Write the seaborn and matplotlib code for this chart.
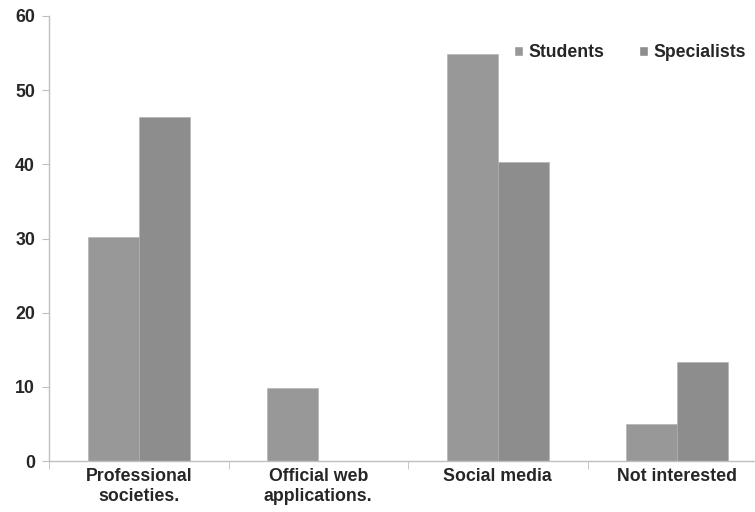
import numpy as np
import pandas as pd
import matplotlib
matplotlib.use("Agg")
import matplotlib.pyplot as plt
import seaborn as sns
from matplotlib.patches import Patch

categories = ["Professional\nsocieties.", "Official web\napplications.", "Social media", "Not interested"]
students = [30.2, 9.8, 54.9, 5.0]
specialists = [46.4, 0.0, 40.3, 13.3]
groups = ["Students", "Specialists"]

student_col = "#989898"
specialist_col = "#8d8d8d"
axis_col = "#bfbfbf"

df = pd.DataFrame({
    "category": categories * 2,
    "value": students + specialists,
    "group": ["Students"] * 4 + ["Specialists"] * 4,
})

sns.set_style("white")
plt.rcParams["font.family"] = ["Liberation Sans", "DejaVu Sans"]
plt.rcParams["font.weight"] = "bold"

fig = plt.figure(figsize=(7.55, 5.12), dpi=100)
ax = fig.add_axes([49 / 755, 51 / 512, 718 / 755, 445 / 512])

sns.barplot(data=df, x="category", y="value", hue="group", hue_order=groups,
            palette=[student_col, specialist_col], width=0.57, gap=0,
            edgecolor="#b0b0b0", linewidth=0.4, legend=False, ax=ax)

ax.set_xlim(-0.5, 3.5)
ax.set_ylim(0, 60)
ax.set_yticks(np.arange(0, 61, 10))
ax.set_xlabel("")
ax.set_ylabel("")

for s in ["top", "right"]:
    ax.spines[s].set_visible(False)
for s in ["left", "bottom"]:
    ax.spines[s].set_color(axis_col)
    ax.spines[s].set_linewidth(1)

ax.tick_params(axis="y", which="major", left=True, length=5, color=axis_col,
               labelsize=12.8, pad=5)
ax.tick_params(axis="x", which="major", bottom=False, length=0, labelsize=12.8, pad=5)
ax.set_xticks(np.arange(-0.5, 3.5, 1), minor=True)
ax.tick_params(axis="x", which="minor", bottom=True, length=6, color=axis_col)
for lab in ax.get_xticklabels() + ax.get_yticklabels():
    lab.set_fontweight("bold")
    lab.set_linespacing(1.25)

handles = [Patch(facecolor=student_col, label="Students"),
           Patch(facecolor=specialist_col, label="Specialists")]
leg = ax.legend(handles=handles, loc="upper right", bbox_to_anchor=(0.993, 0.972),
                ncol=2, frameon=False, handlelength=0.5, handleheight=0.5,
                handletextpad=0.3, columnspacing=2.0,
                prop={"weight": "bold", "size": 12.7})

fig.savefig("out.png", dpi=100)
